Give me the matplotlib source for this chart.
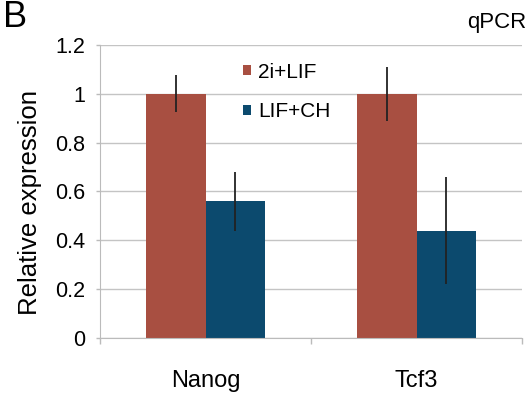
import matplotlib.pyplot as plt
import numpy as np

plt.rcParams['font.family'] = ['Liberation Sans', 'DejaVu Sans']

genes = ['Nanog', 'Tcf3']
series = ['2i+LIF', 'LIF+CH']
values_2i = [1.0, 1.0]
err_2i = [0.075, 0.11]
values_ch = [0.56, 0.44]
err_ch = [0.12, 0.22]
colors = ['#A84F41', '#0C4A6E']

fig = plt.figure(figsize=(5.3, 3.98), dpi=100)
ax = fig.add_axes([0.1887, 0.1508, 0.7963, 0.7362])

x = np.arange(len(genes))
w = 0.28
ax.bar(x - w / 2, values_2i, w, color=colors[0], label=series[0], zorder=2)
ax.bar(x + w / 2, values_ch, w, color=colors[1], label=series[1], zorder=2)
ax.errorbar(x - w / 2, values_2i, yerr=err_2i, fmt='none', ecolor='#222222',
            elinewidth=1.3, capsize=0, zorder=3)
ax.errorbar(x + w / 2, values_ch, yerr=err_ch, fmt='none', ecolor='#222222',
            elinewidth=1.3, capsize=0, zorder=3)

ax.set_xlim(-0.5, 1.5)
ax.set_ylim(0, 1.2)
ax.set_yticks([0, 0.2, 0.4, 0.6, 0.8, 1.0, 1.2])
ax.set_yticklabels(['0', '0.2', '0.4', '0.6', '0.8', '1', '1.2'])
ax.set_xticks(x)
ax.set_xticklabels(genes)
ax.set_xticks([-0.5, 0.5, 1.5], minor=True)
ax.tick_params(axis='x', which='major', length=0, pad=23, labelsize=17)
ax.tick_params(axis='x', which='minor', length=4, color='#BBBBBB', width=1)
ax.tick_params(axis='y', length=3, color='#BBBBBB', width=1, labelsize=15.5, pad=7.5)
ax.yaxis.grid(True, color='#C4C4C4', linewidth=1, zorder=0)
ax.set_axisbelow(True)
for s in ['top', 'right']:
    ax.spines[s].set_visible(False)
for s in ['left', 'bottom']:
    ax.spines[s].set_color('#BBBBBB')
ax.set_ylabel('Relative expression', fontsize=18.5, va='center')
ax.yaxis.set_label_coords(-0.166, 0.464)

ax.legend(loc='upper left', bbox_to_anchor=(0.339, 0.94), frameon=False,
          fontsize=15, handlelength=0.38, handleheight=0.38, handletextpad=0.34,
          labelspacing=1.0, borderpad=0, borderaxespad=0)

fig.text(3 / 530, 1 - 27 / 398, 'B', fontsize=26, va='baseline', ha='left')
fig.text(526 / 530, 1 - 28 / 398, 'qPCR', fontsize=16, va='baseline', ha='right')

fig.savefig('out.png', dpi=100)
